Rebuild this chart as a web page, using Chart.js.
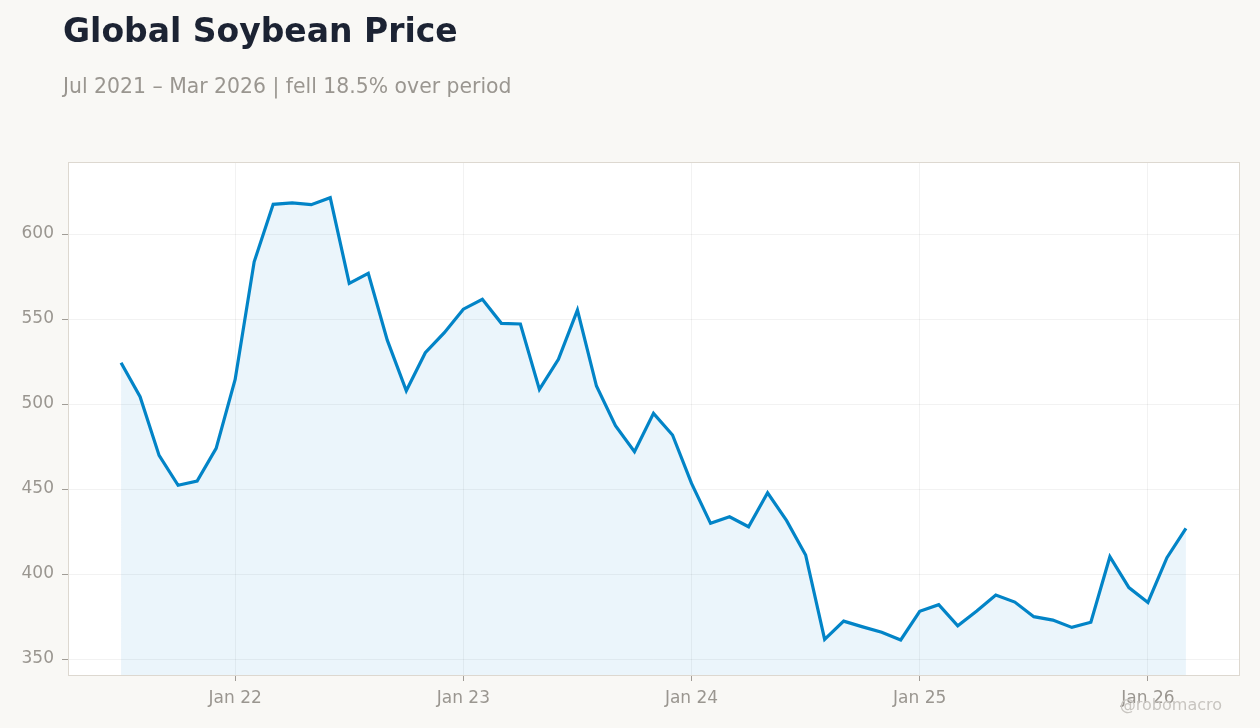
<!DOCTYPE html>
<html>
<head>
<meta charset="utf-8">
<script src="https://cdn.jsdelivr.net/npm/chart.js@4"></script>
<style>
  body { margin: 0; background: #f9f8f5; font-family: "DejaVu Sans", sans-serif; }
  #wrap { position: relative; width: 1260px; height: 728px; }
  #title { position: absolute; left: 63px; top: 14px; font-size: 33px; line-height: 1; font-weight: bold; color: #1c2333; white-space: nowrap; }
  #subtitle { position: absolute; left: 63px; top: 76px; font-size: 20.4px; line-height: 1; color: #9a9690; white-space: nowrap; }
  #credit { position: absolute; right: 38px; top: 697px; font-size: 16px; line-height: 1; color: #c8c5c0; }
</style>
</head>
<body>
<div id="wrap">
  <canvas id="chartSoy"></canvas>
  <div id="title">Global Soybean Price</div>
  <div id="subtitle">Jul 2021 – Mar 2026 | fell 18.5% over period</div>
  <div id="credit">@robomacro</div>
</div>
<script>
// monthly, Jul 2021 .. Mar 2026
const months = [
    'Jul 2021', 'Aug 2021', 'Sep 2021', 'Oct 2021', 'Nov 2021', 'Dec 2021',
    'Jan 2022', 'Feb 2022', 'Mar 2022', 'Apr 2022', 'May 2022', 'Jun 2022',
    'Jul 2022', 'Aug 2022', 'Sep 2022', 'Oct 2022', 'Nov 2022', 'Dec 2022',
    'Jan 2023', 'Feb 2023', 'Mar 2023', 'Apr 2023', 'May 2023', 'Jun 2023',
    'Jul 2023', 'Aug 2023', 'Sep 2023', 'Oct 2023', 'Nov 2023', 'Dec 2023',
    'Jan 2024', 'Feb 2024', 'Mar 2024', 'Apr 2024', 'May 2024', 'Jun 2024',
    'Jul 2024', 'Aug 2024', 'Sep 2024', 'Oct 2024', 'Nov 2024', 'Dec 2024',
    'Jan 2025', 'Feb 2025', 'Mar 2025', 'Apr 2025', 'May 2025', 'Jun 2025',
    'Jul 2025', 'Aug 2025', 'Sep 2025', 'Oct 2025', 'Nov 2025', 'Dec 2025',
    'Jan 2026', 'Feb 2026', 'Mar 2026'
];
const prices = [
    524.3, 504.3, 469.8, 452.2, 454.7, 473.9,
    514.5, 583.7, 617.5, 618.4, 617.3, 621.4,
    571.0, 576.9, 537.6, 507.8, 530.2, 542.0,
    555.8, 561.6, 547.5, 547.1, 508.6, 526.3,
    555.3, 510.6, 487.3, 472.0, 494.5, 481.8,
    453.3, 429.8, 433.7, 427.8, 447.8, 431.4,
    411.2, 361.6, 372.3, 368.9, 365.7, 361.2,
    378.1, 382.0, 369.6, 378.2, 387.6, 383.5,
    374.9, 372.9, 368.6, 371.6, 410.2, 392.0,
    383.3, 409.6, 426.9
];
const tickLabels = ['Jan 22', 'Jan 23', 'Jan 24', 'Jan 25', 'Jan 26'];
const yTicks = [350, 400, 450, 500, 550, 600];

const janIdx = months.map((m, i) => m.startsWith('Jan') ? i : -1).filter(i => i >= 0);

const plotFrame = {
    id: 'plotFrame',
    beforeDraw(chart) {
        const { ctx, chartArea: a } = chart;
        ctx.save();
        ctx.fillStyle = '#ffffff';
        ctx.fillRect(a.left, a.top, a.right - a.left, a.bottom - a.top);
        ctx.restore();
    },
    afterDraw(chart) {
        const { ctx, chartArea: a } = chart;
        ctx.save();
        ctx.strokeStyle = '#ddd8d0';
        ctx.lineWidth = 1;
        ctx.strokeRect(a.left + 0.5, a.top + 0.5, a.right - a.left, a.bottom - a.top);
        ctx.restore();
    }
};

Chart.defaults.font.family = '"DejaVu Sans", sans-serif';

const ctx = document.getElementById('chartSoy').getContext('2d');
const chartSoy = new Chart(ctx, {
    type: 'line',
    data: {
        datasets: [{
            label: 'Soybean',
            data: prices.map((v, i) => ({ x: i, y: v })),
            borderColor: '#0284c7',
            backgroundColor: 'rgba(2, 132, 199, 0.08)',
            borderWidth: 3.2,
            pointRadius: 0,
            tension: 0,
            fill: 'start'
        }]
    },
    options: {
        responsive: true,
        maintainAspectRatio: false,
        animation: false,
        layout: { padding: { top: 162, right: 21, left: 0, bottom: 0 } },
        plugins: {
            legend: { display: false },
            tooltip: { enabled: false }
        },
        scales: {
            x: {
                type: 'linear',
                min: -2.79,
                max: 58.79,
                afterBuildTicks: s => { s.ticks = janIdx.map(v => ({ value: v })); },
                afterFit: s => { s.height = 53; },
                ticks: {
                    callback: (v, i) => tickLabels[i],
                    color: '#9a9690',
                    font: { size: 17 },
                    padding: 7,
                    maxRotation: 0
                },
                grid: { color: 'rgba(0,0,0,0.05)', tickColor: '#a09c96', tickLength: 6 },
                border: { display: false }
            },
            y: {
                min: 340.6,
                max: 642.4,
                afterBuildTicks: s => { s.ticks = yTicks.map(v => ({ value: v })); },
                afterFit: s => { s.width = 68; },
                ticks: {
                    color: '#9a9690',
                    font: { size: 17 },
                    padding: 8
                },
                grid: { color: 'rgba(0,0,0,0.05)', tickColor: '#a09c96', tickLength: 6 },
                border: { display: false }
            }
        }
    },
    plugins: [plotFrame]
});
</script>
</body>
</html>
